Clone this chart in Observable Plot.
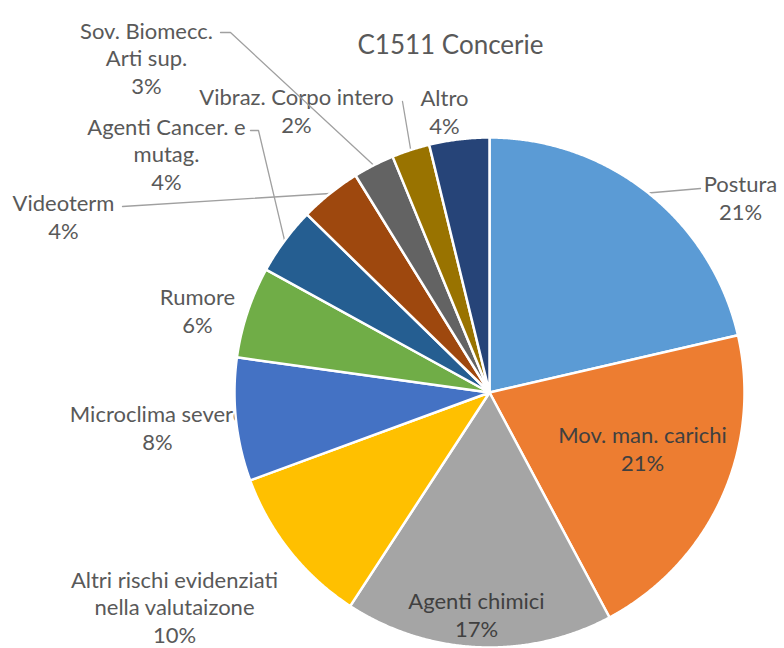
<!DOCTYPE html>
<html>
<head>
<meta charset="utf-8">
<script src="https://cdn.jsdelivr.net/npm/d3@7"></script>
<script src="https://cdn.jsdelivr.net/npm/@observablehq/plot@0.6"></script>
<style>
  html, body { margin: 0; padding: 0; background: #fff; }
  #chart svg { display: block; }
</style>
</head>
<body>
<div id="chart"></div>
<script>
// ---- Data ----
const title = "C1511 Concerie";
const categories = [
  "Postura",
  "Mov. man. carichi",
  "Agenti chimici",
  "Altri rischi evidenziati\nnella valutaizone",
  "Microclima severo",
  "Rumore",
  "Agenti Cancer. e\nmutag.",
  "Videoterm",
  "Sov. Biomecc.\nArti sup.",
  "Vibraz. Corpo intero",
  "Altro"
];
const values = [21.4, 20.8, 17.0, 10.2, 7.8, 5.8, 4.3, 3.9, 2.6, 2.4, 3.8];

// ---- Styles / layout ----
const colors = ["#5B9BD5", "#ED7D31", "#A5A5A5", "#FFC000", "#4472C4", "#70AD47",
                "#255E91", "#9E480E", "#636363", "#997300", "#264478"];
const W = 784, H = 648;
const CX = 489, CY = 392, R = 255;
// label block centres (pixels) and leader elbows
const labelPos = [
  {x: 740, y: 197, inside: false, leader: [[700, 188]]},
  {x: 642, y: 448, inside: true},
  {x: 476, y: 614, inside: true},
  {x: 174, y: 606, inside: false},
  {x: 157, y: 427, inside: false},
  {x: 197, y: 310, inside: false},
  {x: 166, y: 153, inside: false, leader: [[258, 130], [250, 130]]},
  {x: 63,  y: 216, inside: false, leader: [[122, 206]]},
  {x: 146, y: 57,  inside: false, leader: [[230, 32], [220, 32]]},
  {x: 296, y: 110, inside: false, leader: [[402, 101]]},
  {x: 444, y: 111, inside: false}
];

const total = d3.sum(values);
const fmt = d3.format(".0%");
const arcs = d3.pie().sort(null).value(d => d)(values);

const polar = (a, r) => [CX + r * Math.sin(a), CY - r * Math.cos(a)];

// slice polygons
const slicePts = [];
arcs.forEach((arc, i) => {
  const key = categories[i];
  const [x0, y0] = polar(0, 0);
  slicePts.push({key, x: x0, y: y0});
  const n = Math.max(2, Math.ceil((arc.endAngle - arc.startAngle) / 0.005));
  for (let k = 0; k <= n; k++) {
    const a = arc.startAngle + (arc.endAngle - arc.startAngle) * k / n;
    const [x, y] = polar(a, R);
    slicePts.push({key, x, y});
  }
  slicePts.push({key, x: x0, y: y0});
});

// leaders
const leaderPts = [];
arcs.forEach((arc, i) => {
  const lp = labelPos[i];
  if (!lp.leader) return;
  const mid = (arc.startAngle + arc.endAngle) / 2;
  const [ex, ey] = polar(mid, R);
  leaderPts.push({key: categories[i], x: ex, y: ey});
  lp.leader.forEach(([x, y]) => leaderPts.push({key: categories[i], x, y}));
});

const labels = categories.map((c, i) => ({
  text: c + "\n" + fmt(values[i] / total),
  x: labelPos[i].x,
  y: labelPos[i].y,
  inside: labelPos[i].inside
}));

const chart = Plot.plot({
  width: W,
  height: H,
  margin: 0,
  x: {domain: [0, W], range: [0, W], axis: null},
  y: {domain: [0, H], range: [0, H], axis: null},
  color: {domain: categories, range: colors},
  style: {fontFamily: "Lato, sans-serif", background: "#fff"},
  marks: [
    Plot.text(labels.filter(d => !d.inside), {
      x: "x", y: "y", text: "text",
      fill: "#595959",
      fontSize: 22, lineHeight: 1.27, textAnchor: "middle"
    }),
    Plot.line(leaderPts, {x: "x", y: "y", z: "key", stroke: "#a0a0a0", strokeWidth: 1.3, curve: "linear"}),
    Plot.line(slicePts, {x: "x", y: "y", z: "key", fill: "key", stroke: "white", strokeWidth: 2.5, strokeLinejoin: "round", curve: "linear"}),
    Plot.text(labels.filter(d => d.inside), {
      x: "x", y: "y", text: "text",
      fill: "#404040", fontSize: 22, lineHeight: 1.27, textAnchor: "middle"
    }),
    Plot.text([title], {
      x: () => 450, y: () => 45, text: d => d,
      fill: "#595959", fontSize: 26, textAnchor: "middle"
    })
  ]
});
document.getElementById("chart").appendChild(chart);
</script>
</body>
</html>
